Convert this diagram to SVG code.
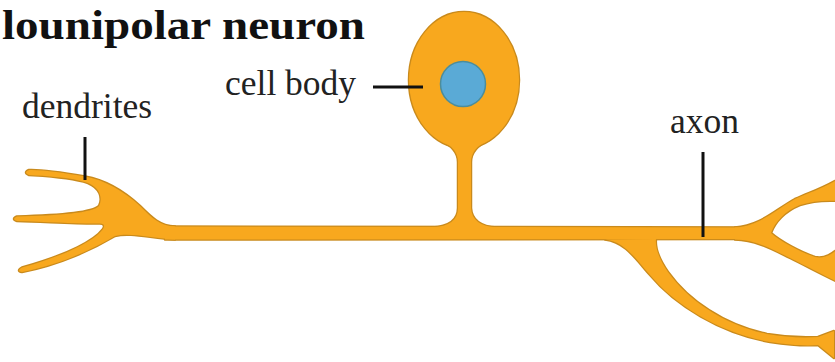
<svg xmlns="http://www.w3.org/2000/svg" xmlns:xlink="http://www.w3.org/1999/xlink" width="835" height="362" viewBox="0 0 835 362">
  <style>
    .title { font-family: "Liberation Serif", "Times New Roman", serif; font-weight: bold; font-size: 43px; fill: #111; }
    .label { font-family: "Liberation Serif", "Times New Roman", serif; font-size: 35.5px; fill: #222; }
    .leader { stroke: #111; stroke-width: 3; fill: none; }
    .edge { fill: #c98a1c; stroke: #c98a1c; stroke-width: 2.5; stroke-linejoin: round; }
    .body { fill: #f8a81e; stroke: none; }
    .nucleus { fill: #5aaad6; stroke: #4b8d9c; stroke-width: 1.5; }
  </style>
  <defs>
    <!-- neuron silhouette, painted twice: once as a dark rim, once as the orange fill -->
    <g id="neuron-shape">
      <!-- dendritic tree and its junction with the process -->
      <path d="M175,226.5 C160,226 152,218 140,206 C125,192 105,180 85,176.5 C65,173 42,169.5 29,170 Q23,172.5 29,175 C45,176 70,177 88,183 C100,188 103,198 99,206 C92,213 60,215.5 17,216.5 Q11,219 17,221 C50,222 80,224 100,223.5 Q106,224 103,229 C95,240 70,254 22,267.5 Q16,271 22,272 C60,265 95,248 115,236 C130,232 150,238 175,239.5 Z"/>
      <!-- main axon trunk -->
      <path d="M165,226.5 L760,227.5 L760,239 L165,239.5 Z"/>
      <!-- cell body -->
      <ellipse cx="464" cy="80" rx="55" ry="68"/>
      <!-- stem linking the soma to the axon -->
      <path d="M440,140 Q458,148 458,162 L458,208 Q458,226 432,227.5 L497,227.5 Q472,226 471,208 L471,162 Q471,148 489,140 Z"/>
      <!-- right terminal fork -->
      <path d="M735,227.5 C760,226 775,210 795,199 C810,192 822,189 840,178 L840,201 C825,200 812,201 800,205 C785,211 775,222 771,233 C780,241 800,252 815,257 C825,259 832,254 840,247 L840,283 C825,276 810,268 790,258 C770,248 755,240 735,239.5 Z"/>
      <!-- long descending branch -->
      <path d="M605,239.5 C625,242 635,258 650,275 C675,305 720,333 770,342 C790,345 805,346 818,345 L834,358 L834,331 L818,337 C800,338 785,337 767,334 C724,325 688,300 668,272 C659,259 655,247 656,239 Z"/>
    </g>
  </defs>

  <rect width="835" height="362" fill="#ffffff"/>

  <g id="title">
    <text class="title" x="2" y="38.5" textLength="363" lengthAdjust="spacingAndGlyphs">lounipolar neuron</text>
  </g>

  <g id="neuron">
    <use xlink:href="#neuron-shape" class="edge"/>
    <use xlink:href="#neuron-shape" class="body"/>
    <circle id="nucleus" class="nucleus" cx="463" cy="84" r="22.5"/>
  </g>

  <g id="connectors">
    <line class="leader" x1="373" y1="87" x2="423" y2="87"/>
    <line class="leader" x1="85" y1="137" x2="85" y2="180" stroke-width="2.5"/>
    <line class="leader" x1="703" y1="152" x2="703" y2="237" stroke-width="2.5"/>
  </g>

  <g id="label-dendrites">
    <text class="label" x="22" y="118">dendrites</text>
  </g>
  <g id="label-cell-body">
    <text class="label" x="225" y="95">cell body</text>
  </g>
  <g id="label-axon">
    <text class="label" x="670" y="133">axon</text>
  </g>
</svg>
